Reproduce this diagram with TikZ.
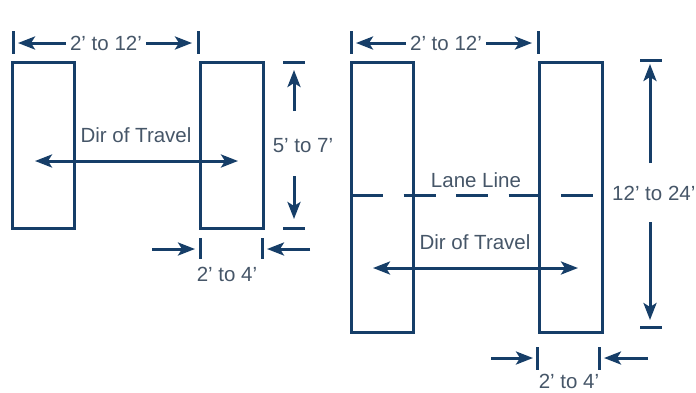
\documentclass[tikz,border=0pt]{standalone}
\usepackage{fontspec}
\setmainfont{Liberation Sans}
\usepackage{xcolor}
\definecolor{Col1}{RGB}{22,62,104}
\definecolor{Col2}{RGB}{70,86,104}
\usetikzlibrary{arrows.meta}
\tikzstyle{Pad}=[draw=Col1,line width=3pt]
\tikzstyle{Tick}=[draw=Col1,line width=3pt]
\tikzstyle{Dim}=[draw=Col1,line width=3pt,
-{Stealth[length=17pt,width=13pt,inset=4pt]}]
\tikzstyle{DimBoth}=[Dim,{Stealth[length=17pt,width=13pt,inset=4pt]}-{Stealth[length=17pt,width=13pt,inset=4pt]}]
\tikzstyle{Lane}=[draw=Col1,line width=3pt,dash pattern=on 32pt off 20.5pt]
\tikzstyle{Lbl}=[text=Col2,font=\fontsize{20.5}{22}\selectfont,inner sep=0pt]

\begin{document}
\begin{tikzpicture}[x=1pt,y=-1pt]
    \useasboundingbox(0,0)rectangle(696,392);
    % left layout
    \draw[Pad](12,62)rectangle(74,228);
    \draw[Pad](200,62)rectangle(263,228);
    \node[Lbl](w1)at(106,43){2' to 12'};
    \draw[Tick](13,31)--(13,54);
    \draw[Tick](198,31)--(198,54);
    \coordinate(w1l)at(18,43);
    \coordinate(w1r)at(192,43);
    \draw[Dim]([xshift=-4pt]w1.west)--(w1l);
    \draw[Dim]([xshift=4pt]w1.east)--(w1r);
    \node[Lbl](d1)at(136,135){Dir of Travel};
    \coordinate(d1l)at(35,161);
    \coordinate(d1r)at(238,161);
    \draw[DimBoth](d1l)--(d1r);
    \draw[Tick](283,62)--(305,62);
    \draw[Tick](283,228)--(305,228);
    \node[Lbl](h1)at(303,146){5' to 7'};
    \coordinate(h1a)at(294,111);
    \coordinate(h1b)at(294,70);
    \coordinate(h1c)at(294,176);
    \coordinate(h1d)at(294,219);
    \draw[Dim](h1a)--(h1b);
    \draw[Dim](h1c)--(h1d);
    \draw[Tick](200,238)--(200,259);
    \draw[Tick](262,238)--(262,259);
    \coordinate(p1a)at(152,249);
    \coordinate(p1b)at(195,249);
    \coordinate(p1c)at(310,249);
    \coordinate(p1d)at(267,249);
    \draw[Dim](p1a)--(p1b);
    \draw[Dim](p1c)--(p1d);
    \node[Lbl](p1)at(227,274){2' to 4'};
    % right layout
    \draw[Pad](351,62)rectangle(413,332);
    \draw[Pad](539,62)rectangle(602,332);
    \node[Lbl](w2)at(446,43){2' to 12'};
    \draw[Tick](351,31)--(351,54);
    \draw[Tick](538,31)--(538,54);
    \coordinate(w2l)at(356,43);
    \coordinate(w2r)at(532,43);
    \draw[Dim]([xshift=-4pt]w2.west)--(w2l);
    \draw[Dim]([xshift=4pt]w2.east)--(w2r);
    \coordinate(l2a)at(351,195);
    \coordinate(l2b)at(594,195);
    \draw[Lane](l2a)--(l2b);
    \node[Lbl](l2)at(476,180){Lane Line};
    \node[Lbl](d2)at(475,242){Dir of Travel};
    \coordinate(d2l)at(373,268);
    \coordinate(d2r)at(578,268);
    \draw[DimBoth](d2l)--(d2r);
    \draw[Tick](640,60)--(662,60);
    \draw[Tick](640,327)--(662,327);
    \node[Lbl,anchor=west](h2)at(612,193){12' to 24'};
    \coordinate(h2a)at(650,163);
    \coordinate(h2b)at(650,64);
    \coordinate(h2c)at(650,222);
    \coordinate(h2d)at(650,320);
    \draw[Dim](h2a)--(h2b);
    \draw[Dim](h2c)--(h2d);
    \draw[Tick](537,347)--(537,370);
    \draw[Tick](599,347)--(599,370);
    \coordinate(p2a)at(491,358);
    \coordinate(p2b)at(533,358);
    \coordinate(p2c)at(648,358);
    \coordinate(p2d)at(604,358);
    \draw[Dim](p2a)--(p2b);
    \draw[Dim](p2c)--(p2d);
    \node[Lbl](p2)at(569,381){2' to 4'};
\end{tikzpicture}
\end{document}
